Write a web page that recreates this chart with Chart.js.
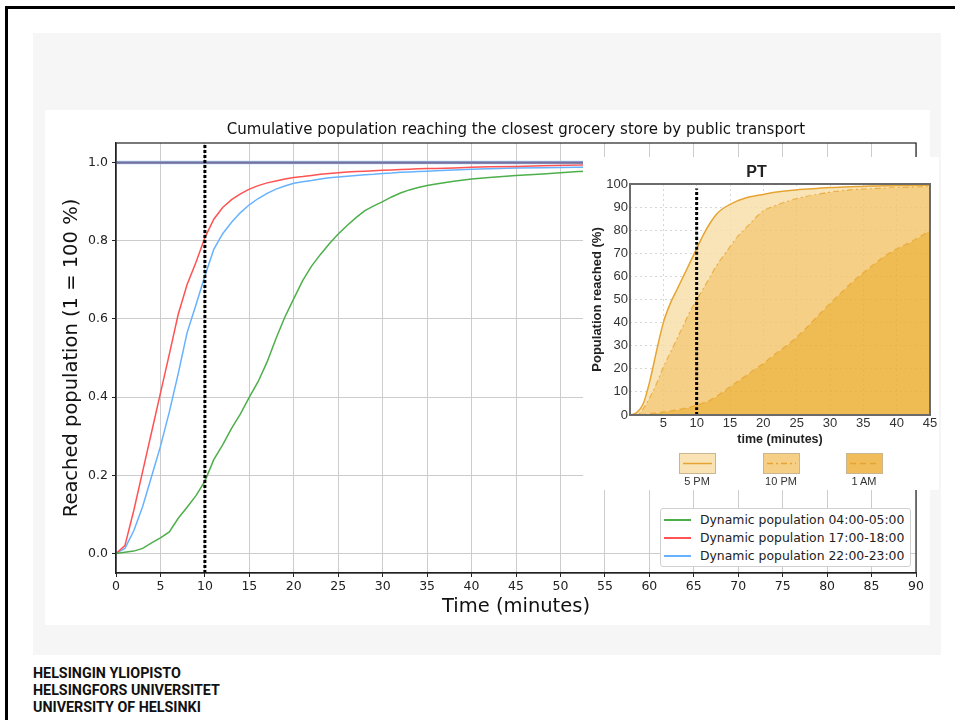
<!DOCTYPE html>
<html>
<head>
<meta charset="utf-8">
<title>Cumulative population reaching the closest grocery store</title>
<script src="https://cdn.jsdelivr.net/npm/chart.js@4.4.1/dist/chart.umd.min.js"></script>
<style>
  body { margin: 0; width: 955px; height: 720px; position: relative; overflow: hidden; background: #fff; }
  .abs { position: absolute; }
  #frame { left: 5px; top: 6px; width: 980px; height: 740px; border-left: 3px solid #000; border-top: 3px solid #000; }
  #panel { left: 33px; top: 33px; width: 908px; height: 622px; background: #f6f6f6; }
  #plot { left: 45px; top: 110px; width: 885px; height: 515px; background: #fff; }
  #legend { left: 660px; top: 508px; width: 249px; height: 57px; background: #fff; border: 1px solid #d0d0d0; border-radius: 3px;
            font-family: "DejaVu Sans", sans-serif; font-size: 12.4px; color: #222; }
  #legend .row { position: absolute; left: 0; height: 18px; width: 100%; }
  #legend .swatch { position: absolute; left: 3px; top: 8px; width: 27px; height: 2px; }
  #legend .txt { position: absolute; left: 39px; top: 1px; white-space: nowrap; }
  #inset { left: 583px; top: 157px; width: 356px; height: 333px; background: #fff; }
  .ibox { position: absolute; top: 296px; width: 35px; height: 19px; border: 1px solid #c9b58f; }
  .ilab { position: absolute; top: 318px; width: 60px; text-align: center; font-family: "Liberation Sans", Arial, sans-serif; font-size: 11px; color: #333; }
  #footer { left: 33px; top: 665px; font-family: Roboto, sans-serif; font-weight: 700; font-size: 14.3px; line-height: 17px; color: #111; }
</style>
</head>
<body>
<div id="frame" class="abs"></div>
<div id="panel" class="abs"></div>
<div id="plot" class="abs"><canvas id="mainChart" width="885" height="515"></canvas></div>

<div id="legend" class="abs">
  <div class="row" style="top:2px"><div class="swatch" style="background:#4daf4a"></div><div class="txt">Dynamic population 04:00-05:00</div></div>
  <div class="row" style="top:20px"><div class="swatch" style="background:#ff5252"></div><div class="txt">Dynamic population 17:00-18:00</div></div>
  <div class="row" style="top:38px"><div class="swatch" style="background:#66b2ff"></div><div class="txt">Dynamic population 22:00-23:00</div></div>
</div>

<div id="inset" class="abs">
  <canvas id="insetChart" width="356" height="300"></canvas>
  <div class="ibox" style="left:96px;background:#f9e3b5">
    <svg width="35" height="19"><line x1="3" y1="9.5" x2="32" y2="9.5" stroke="#e6a533" stroke-width="1.5"/></svg>
  </div>
  <div class="ibox" style="left:180px;background:#f5cf85">
    <svg width="35" height="19"><line x1="3" y1="9.5" x2="32" y2="9.5" stroke="#e6a533" stroke-width="1.5" stroke-dasharray="6,3,2,3"/></svg>
  </div>
  <div class="ibox" style="left:263px;background:#f0bd5a">
    <svg width="35" height="19"><line x1="3" y1="9.5" x2="32" y2="9.5" stroke="#e6a533" stroke-width="1.5" stroke-dasharray="6,4"/></svg>
  </div>
  <div class="ilab" style="left:84px">5 PM</div>
  <div class="ilab" style="left:168px">10 PM</div>
  <div class="ilab" style="left:251px">1 AM</div>
</div>

<div id="footer" class="abs">HELSINGIN YLIOPISTO<br>HELSINGFORS UNIVERSITET<br>UNIVERSITY OF HELSINKI</div>

<script>
// main chart: minutes and share of population (1 = 100 %)
const mainTimes = [0, 1, 2, 3, 4, 5, 6, 7, 8, 9, 10, 11, 12, 13, 14, 15, 16, 17, 18, 19, 20, 21, 22, 23, 24, 25, 26, 27, 28, 29, 30,
  31, 32, 33, 34, 35, 36, 38, 40, 42, 45, 48, 52, 56, 60, 70, 80, 90];
const night0405 = [0, 0.003, 0.006, 0.013, 0.027, 0.04, 0.055, 0.09, 0.118, 0.148, 0.185, 0.24, 0.278, 0.32, 0.357, 0.4, 0.44, 0.49,
  0.55, 0.605, 0.652, 0.698, 0.735, 0.765, 0.792, 0.817, 0.839, 0.859, 0.877, 0.889, 0.9, 0.912, 0.922, 0.93, 0.936, 0.941, 0.945,
  0.952, 0.958, 0.962, 0.967, 0.971, 0.977, 0.979, 0.982, 0.986, 0.989, 0.991];
const evening1718 = [0, 0.02, 0.11, 0.21, 0.31, 0.41, 0.51, 0.612, 0.688, 0.745, 0.808, 0.855, 0.885, 0.905, 0.92, 0.932, 0.941,
  0.948, 0.953, 0.958, 0.962, 0.964, 0.967, 0.97, 0.972, 0.974, 0.976, 0.977, 0.978, 0.979, 0.98, 0.981, 0.982, 0.983, 0.984,
  0.985, 0.985, 0.986, 0.988, 0.989, 0.99, 0.992, 0.994, 0.995, 0.995, 0.996, 0.997, 0.997];
const late2223 = [0, 0.013, 0.058, 0.12, 0.197, 0.274, 0.362, 0.46, 0.565, 0.636, 0.71, 0.778, 0.818, 0.847, 0.872, 0.892, 0.908,
  0.921, 0.932, 0.94, 0.947, 0.951, 0.954, 0.958, 0.961, 0.963, 0.965, 0.967, 0.969, 0.97, 0.972, 0.973, 0.975, 0.976, 0.977,
  0.978, 0.979, 0.981, 0.983, 0.984, 0.986, 0.987, 0.988, 0.989, 0.99, 0.992, 0.993, 0.994];
const mainYTicks = [0, 0.2, 0.4, 0.6, 0.8, 1.0];
const mainYRange = [-0.05, 1.05];
const mainXRange = [0, 90];
const totalShare = 1.0;
const markerTime = 10;

// inset (PT): minutes and population reached (%)
const insetTimes = [0, 1, 2, 3, 4, 5, 6, 7, 8, 9, 10, 11, 12, 13, 14, 15, 16, 17, 18, 19, 20, 22, 24, 26, 28, 30, 32, 34, 36, 38, 40, 42, 45];
const pm5 = [0, 1, 5, 15, 28, 40, 48, 54, 60, 66, 72, 78, 83, 87, 89.5, 91.2, 92.6, 93.6, 94.5, 95, 95.5, 96.5, 97.2, 97.7, 98.1,
  98.5, 98.7, 98.9, 99.1, 99.2, 99.3, 99.4, 99.5];
const pm10 = [0, 0, 3, 8, 14, 21, 27, 33, 39, 45, 50, 55, 60, 65, 69, 73, 77, 80, 83, 86, 88.5, 91, 93, 94.5, 95.6, 96.6, 97.3,
  97.8, 98.1, 98.4, 98.6, 98.8, 99];
const am1 = [0, 0.1, 0.3, 0.6, 1, 1.4, 1.8, 2.3, 2.8, 3.5, 4.3, 5.3, 6.5, 8.2, 10.2, 12.3, 14.3, 16.3, 18.4, 20.4, 22.4, 27, 31.3,
  36.5, 42.5, 48.4, 54, 59.3, 64, 68.5, 72, 74.8, 80];
const insetMarkerTop = 98;

const pairs = (xs, ys) => xs.map((x, i) => ({ x: x, y: ys[i] }));

// full box around the plot area
const frameBox = (color, width) => ({
  id: "frameBox",
  afterDraw(chart) {
    const { ctx, chartArea: a } = chart;
    ctx.save();
    ctx.strokeStyle = color;
    ctx.lineWidth = width;
    ctx.strokeRect(a.left, a.top, a.right - a.left, a.bottom - a.top);
    ctx.restore();
  },
});

const dv = "'DejaVu Sans', sans-serif";

new Chart(document.getElementById("mainChart"), {
  type: "line",
  data: {
    datasets: [
      { data: [{ x: markerTime, y: mainYRange[0] }, { x: markerTime, y: mainYRange[1] }], borderColor: "#000", borderWidth: 3, borderDash: [3, 2] },
      { data: pairs(mainXRange, [totalShare, totalShare]), borderColor: "#77709f", borderWidth: 2.2 },
      { data: pairs(mainXRange, [totalShare, totalShare]), borderColor: "#a9cdee", borderWidth: 3.6 },
      { label: "Dynamic population 04:00-05:00", data: pairs(mainTimes, night0405), borderColor: "#4daf4a", borderWidth: 1.5 },
      { label: "Dynamic population 17:00-18:00", data: pairs(mainTimes, evening1718), borderColor: "#ff5252", borderWidth: 1.5 },
      { label: "Dynamic population 22:00-23:00", data: pairs(mainTimes, late2223), borderColor: "#66b2ff", borderWidth: 1.5 },
    ],
  },
  options: {
    responsive: false,
    animation: false,
    layout: { padding: { right: 14, left: 0, bottom: 0 } },
    elements: { point: { radius: 0 }, line: { tension: 0, fill: false } },
    plugins: {
      legend: { display: false },
      tooltip: { enabled: false },
      title: {
        display: true,
        fullSize: false,
        text: "Cumulative population reaching the closest grocery store by public transport",
        color: "#111",
        font: { family: dv, size: 15, weight: "normal", lineHeight: 1.2 },
        padding: { top: 11, bottom: 4 },
      },
    },
    scales: {
      x: {
        type: "linear",
        min: mainXRange[0],
        max: mainXRange[1],
        ticks: { stepSize: 5, autoSkip: false, maxRotation: 0, padding: 2, color: "#222", font: { family: dv, size: 12.5 } },
        grid: { color: "#cccccc", lineWidth: 1, tickColor: "#222", tickLength: 4 },
        border: { color: "#222", width: 1.2 },
        title: { display: true, text: "Time (minutes)", color: "#111", font: { family: dv, size: 19.5 }, padding: { top: 0, bottom: 6 } },
        afterFit: (s) => { s.height = 52; },
      },
      y: {
        min: mainYRange[0],
        max: mainYRange[1],
        afterBuildTicks: (s) => { s.ticks = mainYTicks.map((v) => ({ value: v })); },
        ticks: { callback: (v) => Number(v).toFixed(1), padding: 4, color: "#222", font: { family: dv, size: 12.5 } },
        grid: { color: "#cccccc", lineWidth: 1, tickColor: "#222", tickLength: 4 },
        border: { color: "#222", width: 1.2 },
        title: { display: true, text: "Reached population (1 = 100 %)", color: "#111", font: { family: dv, size: 19.5 }, padding: { top: 15, bottom: 0 } },
        afterFit: (s) => { s.width = 71; },
      },
    },
  },
  plugins: [frameBox("#222", 1.2)],
});

const ls = "'Liberation Sans', Arial, sans-serif";
const lineGold = "#e6a533";

new Chart(document.getElementById("insetChart"), {
  type: "line",
  data: {
    datasets: [
      { data: [{ x: markerTime, y: 0 }, { x: markerTime, y: insetMarkerTop }], borderColor: "#000", borderWidth: 3, borderDash: [3, 2], fill: false, tension: 0 },
      { label: "5 PM", data: pairs(insetTimes, pm5), borderColor: lineGold, borderWidth: 1.5, fill: "+1", backgroundColor: "rgba(248,222,168,0.82)" },
      { label: "10 PM", data: pairs(insetTimes, pm10), borderColor: lineGold, borderWidth: 1.5, borderDash: [6, 3, 2, 3], fill: "+1", backgroundColor: "rgba(243,197,106,0.82)" },
      { label: "1 AM", data: pairs(insetTimes, am1), borderColor: lineGold, borderWidth: 1.5, borderDash: [6, 4], fill: "origin", backgroundColor: "rgba(236,172,45,0.82)" },
    ],
  },
  options: {
    responsive: false,
    animation: false,
    layout: { padding: { right: 9, left: 0, bottom: 0 } },
    elements: { point: { radius: 0 }, line: { tension: 0.3, cubicInterpolationMode: "monotone" } },
    plugins: {
      legend: { display: false },
      tooltip: { enabled: false },
      filler: { propagate: false },
      title: {
        display: true,
        text: "PT",
        color: "#222",
        font: { family: ls, size: 16, weight: "bold", lineHeight: 1.2 },
        padding: { top: 6.4, bottom: 1.4 },
      },
    },
    scales: {
      x: {
        type: "linear",
        min: 0,
        max: 45,
        ticks: { stepSize: 5, autoSkip: false, maxRotation: 0, padding: 1, color: "#333", font: { family: ls, size: 13 },
                 callback: (v) => (v === 0 ? "" : v) },
        grid: { color: "#d6d6d6", lineWidth: 1, drawTicks: false },
        border: { display: false, dash: [2, 3] },
        title: { display: true, text: "time (minutes)", color: "#222", font: { family: ls, size: 12.5, weight: "bold", lineHeight: 1.2 }, padding: { top: 0, bottom: 10 } },
        afterFit: (s) => { s.height = 42; },
      },
      y: {
        min: 0,
        max: 100,
        ticks: { stepSize: 10, padding: 2, color: "#333", font: { family: ls, size: 13 } },
        grid: { color: "#d6d6d6", lineWidth: 1, drawTicks: false },
        border: { display: false, dash: [2, 3] },
        title: { display: true, text: "Population reached (%)", color: "#222", font: { family: ls, size: 13, weight: "bold", lineHeight: 1.2 }, padding: { top: 7, bottom: 0 } },
        afterFit: (s) => { s.width = 47; },
      },
    },
  },
  plugins: [frameBox("#6b6b6b", 2)],
});
</script>
</body>
</html>
